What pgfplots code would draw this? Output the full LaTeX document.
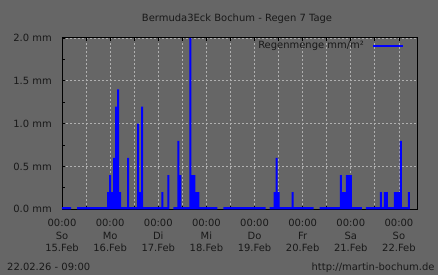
\documentclass[border=0pt]{standalone}
\usepackage{fontspec}
\setmainfont{DejaVu Sans}
\usepackage{pgfplots}
\pgfplotsset{compat=1.18}
\definecolor{bg}{RGB}{102,102,102}
\definecolor{gridc}{RGB}{176,176,176}
\definecolor{txt}{RGB}{25,25,25}
\definecolor{rrdblue}{RGB}{0,0,255}
\begin{document}
\begin{tikzpicture}
\fill[bg] (-62bp,-65.7bp) rectangle (376bp,209.3bp);
\begin{axis}[
  scale only axis, width=355bp, height=171.3bp,
  at={(0,0)}, anchor=south west,
  xmin=0, xmax=177, ymin=0, ymax=2,
  axis line style={black, line width=1bp},
  xtick={0,24,...,168}, minor xtick={12,36,...,156},
  xticklabels={{00:00\\So\\15.Feb},{00:00\\Mo\\16.Feb},{00:00\\Di\\17.Feb},{00:00\\Mi\\18.Feb},{00:00\\Do\\19.Feb},{00:00\\Fr\\20.Feb},{00:00\\Sa\\21.Feb},{00:00\\So\\22.Feb}},
  ytick={0,0.5,1,1.5,2}, minor ytick={0.25,0.75,1.25,1.75}, ytick pos=left,
  yticklabels={0.0 mm,0.5 mm,1.0 mm,1.5 mm,2.0 mm},
  major tick length=3bp, minor tick length=3bp,
  tick style={black, line width=0.8bp},
  xmajorgrids, xminorgrids, ymajorgrids,
  major grid style={gridc, dash pattern=on 2bp off 2bp, line width=0.8bp},
  minor grid style={gridc, dash pattern=on 2bp off 2bp, line width=0.8bp},
  xticklabel style={font=\fontsize{10}{12.5}\selectfont, align=center, text=txt, inner sep=0pt, yshift=-10bp},
  yticklabel style={font=\fontsize{10}{12}\selectfont, text=txt, inner sep=0pt, xshift=-10bp},
  legend style={draw=none, fill=none, at={(rel axis cs:0.963,0.953)}, anchor=east, inner sep=0pt, outer sep=0pt, font=\fontsize{10}{12}\selectfont, text=txt, column sep=8bp, nodes={inner sep=0pt}},
  legend plot pos=right,
  legend image code/.code={\draw[rrdblue, line width=2bp] (0bp,0bp) -- (30bp,0bp);},
]
\addplot[const plot, fill=rrdblue, draw=none, forget plot] coordinates {(0,0.025) (4.5,0.025)} \closedcycle;
\addplot[const plot, fill=rrdblue, draw=none, forget plot] coordinates {
(7.5,0.025) (22.5,0.2) (23.5,0.4) (24.5,0.2) (25.5,0.6) (26.5,1.2) (27.5,1.4) (28.5,0.2) (29.5,0.025)
(32.5,0.6) (33.5,0.025) (37.5,1.0) (38.5,0.2) (39.5,1.2) (40.5,0.025) (49.5,0.2) (50.5,0.025)
(52.5,0.4) (53.5,0.025)} \closedcycle;
\addplot[const plot, fill=rrdblue, draw=none, forget plot] coordinates {
(55.5,0.025) (57.5,0.8) (58.5,0.4) (59.5,0.025) (63.5,2.0) (64.5,0.4) (65.5,0.4) (66.5,0.2) (67.5,0.2) (68.5,0.025) (77.5,0.025)} \closedcycle;
\addplot[const plot, fill=rrdblue, draw=none, forget plot] coordinates {(80.5,0.025) (101.5,0.025)} \closedcycle;
\addplot[const plot, fill=rrdblue, draw=none, forget plot] coordinates {
(103.5,0.025) (105.5,0.2) (106.5,0.6) (107.5,0.2) (108.5,0.025) (114.5,0.2) (115.5,0.025) (125.5,0.025)} \closedcycle;
\addplot[const plot, fill=rrdblue, draw=none, forget plot] coordinates {
(128.5,0.025) (138.5,0.4) (139.5,0.2) (140.5,0.2) (141.5,0.4) (142.5,0.4) (143.5,0.4) (144.5,0.025) (149.5,0.025)} \closedcycle;
\addplot[const plot, fill=rrdblue, draw=none, forget plot] coordinates {
(151.5,0.025) (158.5,0.2) (159.5,0.025) (160.5,0.2) (161.5,0.2) (162.5,0.025) (165.5,0.2) (166.5,0.2) (167.5,0.2) (168.5,0.8) (169.5,0.025) (172.5,0.2) (173.5,0.025)} \closedcycle;
\addlegendimage{rrdblue, line width=2bp}
\addlegendentry{Regenmenge mm/m²}
\end{axis}
\node[txt, font=\fontsize{10}{12}\selectfont, anchor=base] at (175bp,187.3bp) {Bermuda3Eck Bochum - Regen 7 Tage};
\node[txt, font=\fontsize{10}{12}\selectfont, anchor=base west, inner sep=0pt] at (-55bp,-61.4bp) {22.02.26 - 09:00};
\node[txt, font=\fontsize{10}{12}\selectfont, anchor=base east, inner sep=0pt] at (372.7bp,-61.4bp) {http://martin-bochum.de};
\pgfresetboundingbox
\path[use as bounding box] (-62bp,-65.7bp) rectangle (376bp,209.3bp);
\end{tikzpicture}
\end{document}
